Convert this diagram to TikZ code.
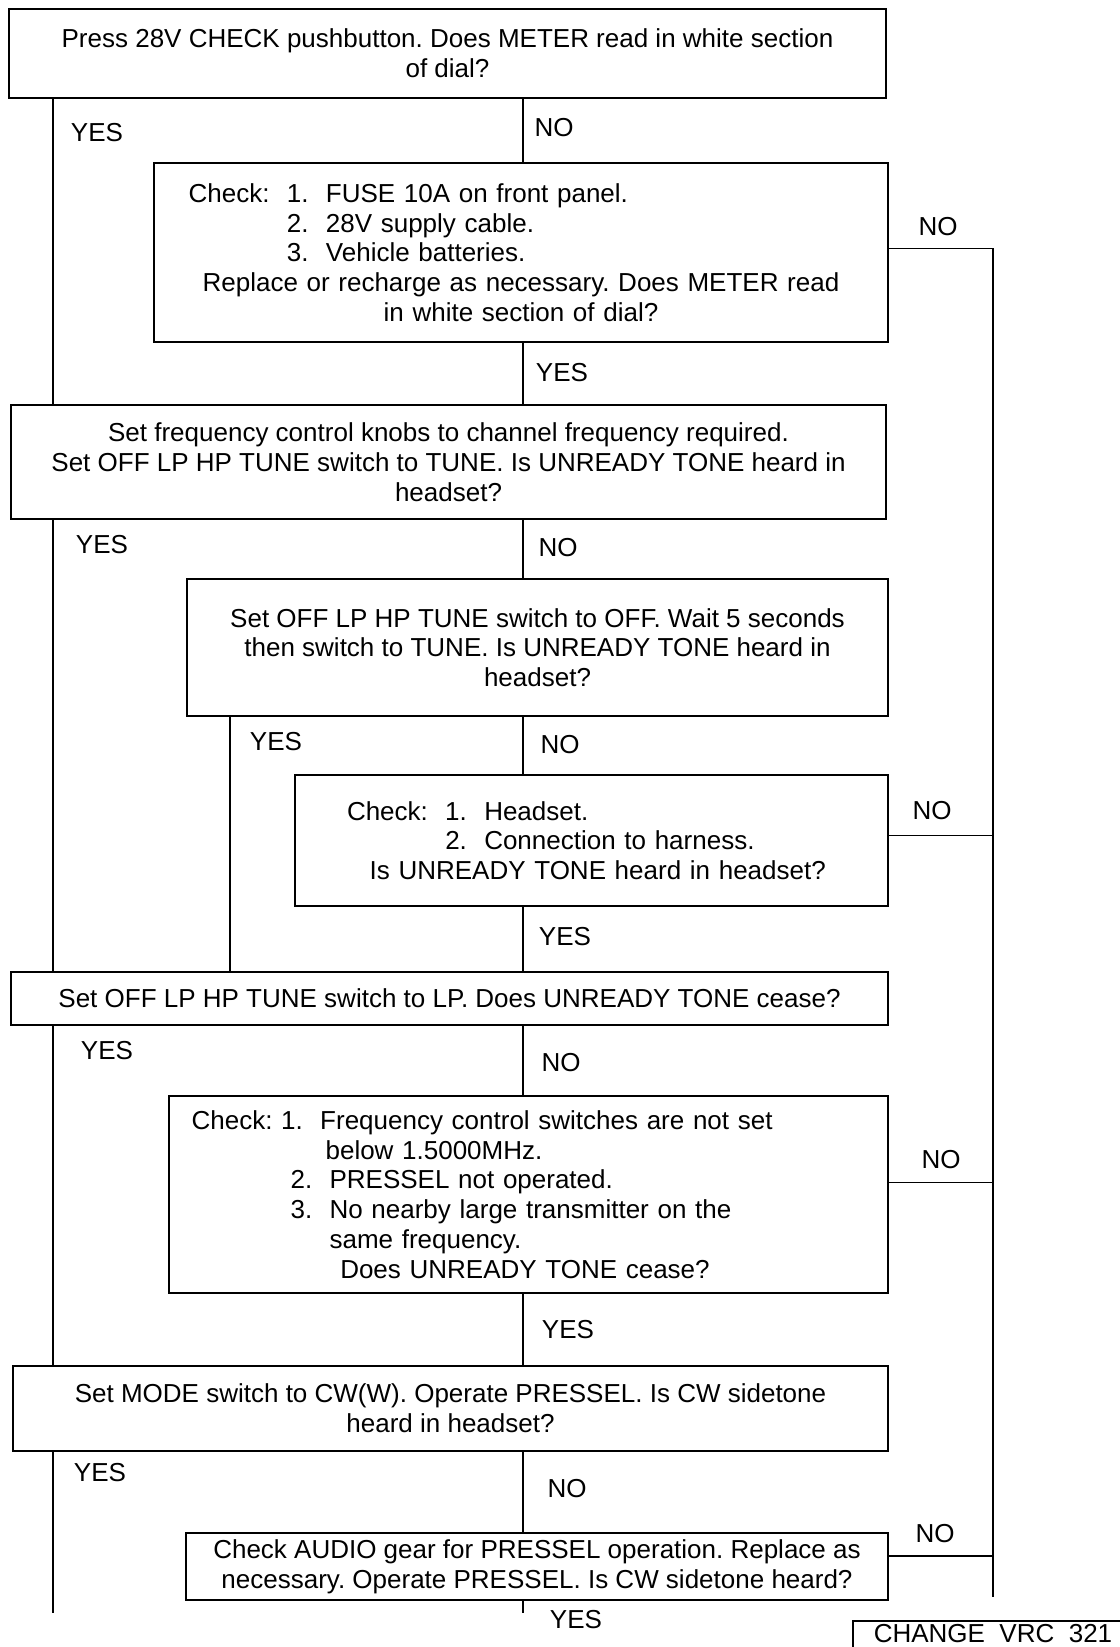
\documentclass[tikz,border=0pt]{standalone}
\usepackage{fontspec}
\setmainfont{Liberation Sans}
\newcommand\chartfont{\fontsize{19.5}{22.3}\selectfont}
\frenchspacing

\begin{document}
\begin{tikzpicture}[
x=0.75pt,y=-0.75pt,
box/.style={draw,line width=1.1pt,inner sep=0pt,align=center,font=\chartfont},
link/.style={line width=1pt},
ans/.style={inner sep=0pt,font=\chartfont}
]
\useasboundingbox (0,0) rectangle (1120,1647);
\node[box,minimum width=657.75pt,minimum height=66.75pt] (b1) at (447.5,53.5) {Press 28V CHECK pushbutton. Does METER read in white section\\of dial?};
\node[box,minimum width=550.5pt,minimum height=134.25pt,text width=550.5pt,align=left] (b2) at (521,252.5) {%
\hspace*{26pt}Check:\ \ 1.\ \ FUSE 10A on front panel.\\
\hspace*{26pt}\phantom{Check:\ \ }2.\ \ 28V supply cable.\\
\hspace*{26pt}\phantom{Check:\ \ }3.\ \ Vehicle batteries.\\
\makebox[\linewidth]{Replace or recharge as necessary. Does METER read}\\
\makebox[\linewidth]{in white section of dial?}};
\node[box,minimum width=656.25pt,minimum height=85.5pt] (b3) at (448.5,462) {Set frequency control knobs to channel frequency required.\\Set OFF LP HP TUNE switch to TUNE. Is UNREADY TONE heard in\\headset?};
\node[box,minimum width=525.75pt,minimum height=102.75pt] (b4) at (537.5,647.5) {Set OFF LP HP TUNE switch to OFF. Wait 5 seconds\\then switch to TUNE. Is UNREADY TONE heard in\\headset?};
\node[box,minimum width=444.75pt,minimum height=98.25pt,text width=444.75pt,align=left] (b5) at (591.5,840.5) {%
\hspace*{39pt}Check:\ \ 1.\ \ Headset.\\
\hspace*{39pt}\phantom{Check:\ \ }2.\ \ Connection to harness.\\
\hspace*{56pt}Is UNREADY TONE heard in headset?};
\node[box,minimum width=657.75pt,minimum height=39.75pt] (b6) at (449.5,998.5) {Set OFF LP HP TUNE switch to LP. Does UNREADY TONE cease?};
\node[box,minimum width=539.25pt,minimum height=147.75pt,text width=539.25pt,align=left] (b7) at (528.5,1194.5) {%
\hspace*{17pt}Check:\ 1.\ \ Frequency control switches are not set\\
\hspace*{21pt}\phantom{Check:\ 1.\ \ }below 1.5000MHz.\\
\hspace*{24pt}\phantom{Check:\ }2.\ \ PRESSEL not operated.\\
\hspace*{24pt}\phantom{Check:\ }3.\ \ No nearby large transmitter on the\\
\hspace*{24pt}\phantom{Check:\ 1.\ \ }same frequency.\\
\hspace*{32pt}\phantom{Check:\ 1.\ \ }Does UNREADY TONE cease?};
\node[box,minimum width=656.25pt,minimum height=63.75pt] (b8) at (450.5,1408.5) {Set MODE switch to CW(W). Operate PRESSEL. Is CW sidetone\\heard in headset?};
\node[box,minimum width=526.5pt,minimum height=50.25pt] (b9) at (537,1566.5) {Check AUDIO gear for PRESSEL operation. Replace as\\necessary. Operate PRESSEL. Is CW sidetone heard?};

% spines
\coordinate (lsp) at (53,0);
\coordinate (msp) at (523,0);
\coordinate (ysp) at (230,0);
\coordinate (lend) at (53,1613);
\coordinate (mend) at (523,1613);
\coordinate (rbot) at (993,1597);
\draw[link] (b1.south -| lsp) -- (b3.north -| lsp);
\draw[link] (b3.south -| lsp) -- (b6.north -| lsp);
\draw[link] (b6.south -| lsp) -- (b8.north -| lsp);
\draw[link] (b8.south -| lsp) -- (lend);
\draw[link] (b4.south -| ysp) -- (b6.north -| ysp);
\foreach \a/\b in {b1/b2,b2/b3,b3/b4,b4/b5,b5/b6,b6/b7,b7/b8,b8/b9}
  \draw[link] (\a.south -| msp) -- (\b.north -| msp);
\draw[link] (b9.south -| msp) -- (mend);

% NO branches to the right
\coordinate (n2) at ([yshift=3pt]b2.east);
\coordinate (n5) at ([yshift=4pt]b5.east);
\coordinate (n7) at ([yshift=9pt]b7.east);
\coordinate (n9) at ([yshift=8pt]b9.east);
\draw[link] (n2) -| (rbot);
\draw[link] (n5) -- (n5 -| rbot);
\draw[link] (n7) -- (n7 -| rbot);
\draw[link] (n9) -- (n9 -| rbot);

% labels
\node[ans] (y1) at (97,133) {YES};
\node[ans] (n1) at (554,128) {NO};
\node[ans] (r2) at (938,227) {NO};
\node[ans] (y2) at (562,373) {YES};
\node[ans] (y3) at (102,545) {YES};
\node[ans] (n3) at (558,548) {NO};
\node[ans] (y4) at (276,742) {YES};
\node[ans] (n4) at (560,745) {NO};
\node[ans] (r5) at (932,811) {NO};
\node[ans] (y5) at (565,937) {YES};
\node[ans] (y6) at (107,1051) {YES};
\node[ans] (n6) at (561,1063) {NO};
\node[ans] (r7) at (941,1160) {NO};
\node[ans] (y7) at (568,1330) {YES};
\node[ans] (y8) at (100,1473) {YES};
\node[ans] (n8) at (567,1489) {NO};
\node[ans] (r9) at (935,1534) {NO};
\node[ans] (y9) at (576,1620) {YES};

\node[ans] (tag) at (993,1634) {CHANGE\ \ VRC\ \ 321};
\draw[link] (853,1660) |- (1130,1621);
\end{tikzpicture}
\end{document}
